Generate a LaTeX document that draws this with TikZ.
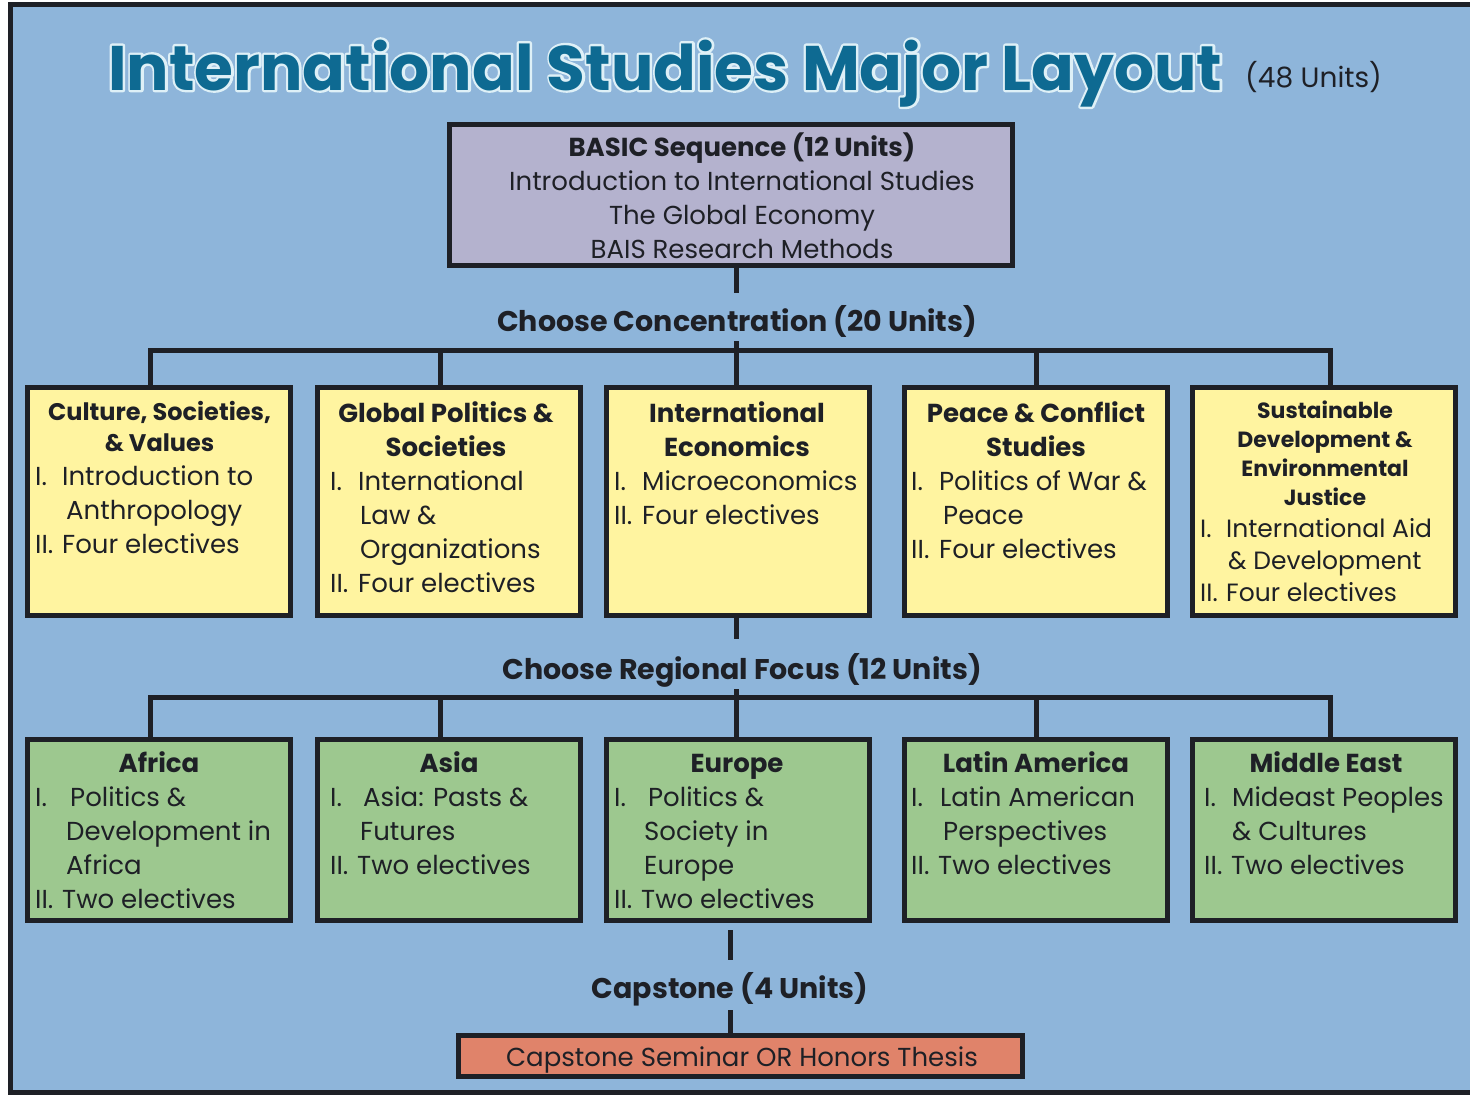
\documentclass[tikz,border=0pt]{standalone}
\usepackage{fontspec}
\setmainfont{Poppins}
\usepackage{graphicx}
\definecolor{bgblue}{RGB}{142,181,218}
\definecolor{lav}{RGB}{180,178,206}
\definecolor{yel}{RGB}{255,244,160}
\definecolor{grn}{RGB}{157,200,143}
\definecolor{salmon}{RGB}{224,131,106}
\definecolor{titleblue}{RGB}{14,106,146}
\definecolor{halo}{RGB}{222,240,247}
\definecolor{ink}{RGB}{30,32,38}
\newcommand\fsz[2]{\fontsize{#1}{#2}\selectfont}
\newcommand\lb[2]{\makebox[#1pt][l]{#2}}
\newcommand\titletext{International Studies Major Layout}
\newcommand\halotext[1]{\special{pdf:literal direct q 2 Tr 4.5 w 1 j 1 J}#1\special{pdf:literal direct Q}}
\tikzset{
  boxline/.style={draw=ink, line width=5pt, inner sep=0pt},
  ybox/.style={boxline, fill=yel, minimum width=263, minimum height=228},
  gbox/.style={boxline, fill=grn, minimum width=263, minimum height=181},
  conn/.style={draw=ink, line width=5pt},
  hd/.style={inner sep=0pt, text=ink, font=\fsz{26}{34}\bfseries, align=center, anchor=base},
  itm/.style={inner sep=0pt, text=ink, font=\fsz{26}{34}, align=left, anchor=base west},
  lbl/.style={inner sep=0pt, text=ink, font=\fsz{28.5}{34}\bfseries},
  ttl/.style={anchor=base west, inner sep=0pt}
}
\begin{document}
\begin{tikzpicture}[x=1pt,y=-1pt]
\useasboundingbox (0,0) rectangle (1470,1096);
\fill[white] (0,0) rectangle (1470,1096);
\draw[draw=ink, line width=5pt, fill=bgblue] (10.5,4.5) rectangle (1478,1092.5);

% title (light halo underneath, blue text on top)
\node[ttl, text=halo] (titlehalo) at (108,90)
  {\resizebox{1114pt}{!}{\fsz{60}{60}\bfseries\halotext{\titletext}}};
\node[ttl, text=titleblue] (title) at (108,90)
  {\resizebox{1114pt}{!}{\fsz{60}{60}\bfseries\titletext}};
\node[anchor=base west, inner sep=0pt, text=ink, font=\fsz{28}{28}] (total) at (1245,87) {(48 Units)};

% basic sequence
\node[boxline, fill=lav, minimum width=563, minimum height=141] (basic) at (731,195) {};
\node[inner sep=0pt, text=ink, font=\fsz{26}{34}, align=center, anchor=base] (basictxt) at (742,258)
  {\textbf{BASIC Sequence (12 Units)}\\Introduction to International Studies\\The Global Economy\\BAIS Research Methods};

% concentration label and bus
\node[lbl] (cc) at (737,321) {Choose Concentration (20 Units)};
\coordinate (b3) at (736,350);
\coordinate (b1) at (150,350);
\coordinate (b2) at (440,350);
\coordinate (b4) at (1036,350);
\coordinate (b5) at (1330,350);

% yellow boxes
\node[ybox] (y1) at (159,501.5) {};
\node[ybox] (y2) at (448.5,501.5) {};
\node[ybox] (y3) at (737.5,501.5) {};
\node[ybox] (y4) at (1035.5,501.5) {};
\node[ybox] (y5) at (1324,501.5) {};

\node[hd, font=\fsz{24}{31}\bfseries] (y1h) at (159.5,451) {Culture, Societies,\\\& Values};
\node[itm] (y1t) at (35,553) {\lb{27}{I.}Introduction to\\\hspace*{31pt}Anthropology\\\lb{27}{II.}Four electives};

\node[hd] (y2h) at (446,456) {Global Politics \&\\Societies};
\node[itm] (y2t) at (330,592) {\lb{28}{I.}International\\\hspace*{30pt}Law \&\\\hspace*{30pt}Organizations\\\lb{28}{II.}Four electives};

\node[hd] (y3h) at (737,456) {International\\Economics};
\node[itm] (y3t) at (614,524) {\lb{28}{I.}Microeconomics\\\lb{28}{II.}Four electives};

\node[hd] (y4h) at (1036,456) {Peace \& Conflict\\Studies};
\node[itm] (y4t) at (911,558) {\lb{28}{I.}Politics of War \&\\\hspace*{32pt}Peace\\\lb{28}{II.}Four electives};

\node[hd, font=\fsz{22}{29}\bfseries] (y5h) at (1325,505) {Sustainable\\Development \&\\Environmental\\Justice};
\node[itm, font=\fsz{25}{32}] (y5t) at (1200,601) {\lb{26}{I.}International Aid\\\hspace*{28pt}\& Development\\\lb{26}{II.}Four electives};

% connectors concentration
\draw[conn, shorten >=12pt] (basic.south -| b3) -- (cc.north -| b3);
\draw[conn, shorten <=4pt] (cc.south -| b3) -- (b3);
\draw[conn] (y1.north -| b1) -- (b1) -- (b5) -- (y5.north -| b5);
\draw[conn] (b2) -- (y2.north -| b2);
\draw[conn] (b3) -- (y3.north -| b3);
\draw[conn] (b4) -- (y4.north -| b4);

% regional focus
\node[lbl] (rf) at (742,670) {Choose Regional Focus (12 Units)};
\coordinate (r3) at (736,697);
\coordinate (r1) at (150,697);
\coordinate (r2) at (440,697);
\coordinate (r4) at (1036,697);
\coordinate (r5) at (1330,697);

\node[gbox] (g1) at (159,830) {};
\node[gbox] (g2) at (448.5,830) {};
\node[gbox] (g3) at (737.5,830) {};
\node[gbox] (g4) at (1035.5,830) {};
\node[gbox] (g5) at (1324,830) {};

\node[hd] (g1h) at (159,772) {Africa};
\node[itm] (g1t) at (35,908) {\lb{35}{I.}Politics \&\\\hspace*{31pt}Development in\\\hspace*{31pt}Africa\\\lb{27}{II.}Two electives};
\node[hd] (g2h) at (449,772) {Asia};
\node[itm] (g2t) at (330,874) {\lb{33}{I.}Asia: Pasts \&\\\hspace*{30pt}Futures\\\lb{27}{II.}Two electives};
\node[hd] (g3h) at (737,772) {Europe};
\node[itm] (g3t) at (614,908) {\lb{34}{I.}Politics \&\\\hspace*{30pt}Society in\\\hspace*{30pt}Europe\\\lb{27}{II.}Two electives};
\node[hd] (g4h) at (1036,772) {Latin America};
\node[itm] (g4t) at (911,874) {\lb{29}{I.}Latin American\\\hspace*{32pt}Perspectives\\\lb{27}{II.}Two electives};
\node[hd] (g5h) at (1326,772) {Middle East};
\node[itm] (g5t) at (1204,874) {\lb{28}{I.}Mideast Peoples\\\hspace*{28pt}\& Cultures\\\lb{27}{II.}Two electives};

\draw[conn, shorten >=14pt] (y3.south -| r3) -- (rf.north -| r3);
\draw[conn, shorten <=2pt] (rf.south -| r3) -- (r3);
\draw[conn] (g1.north -| r1) -- (r1) -- (r5) -- (g5.north -| r5);
\draw[conn] (r2) -- (g2.north -| r2);
\draw[conn] (r3) -- (g3.north -| r3);
\draw[conn] (r4) -- (g4.north -| r4);

% capstone
\node[lbl] (capl) at (730,989) {Capstone (4 Units)};
\coordinate (cx) at (730,1000);
\node[boxline, fill=salmon, minimum width=564, minimum height=41] (capbox) at (740.5,1056) {};
\node[inner sep=0pt, text=ink, font=\fsz{26}{30}, anchor=base] (captxt) at (742,1066) {Capstone Seminar OR Honors Thesis};
\draw[conn, shorten <=7pt, shorten >=12pt] (g3.south -| cx) -- (capl.north -| cx);
\draw[conn, shorten <=4pt] (capl.south -| cx) -- (capbox.north -| cx);
\end{tikzpicture}
\end{document}
